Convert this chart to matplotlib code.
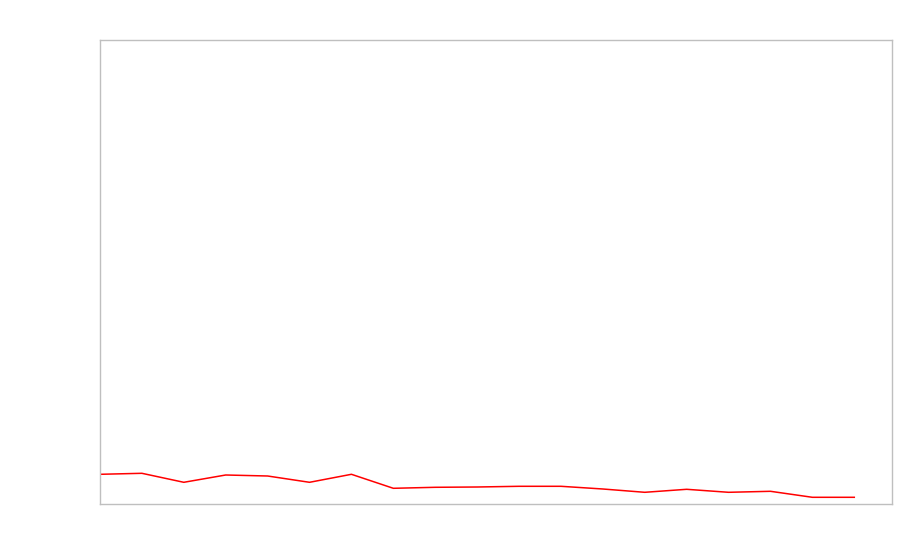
import matplotlib
matplotlib.use("Agg")
import matplotlib.pyplot as plt

x_index = list(range(19))
values = [29.7, 30.7, 21.7, 29.0, 28.0, 21.7, 29.7, 15.7, 16.7, 17.0, 17.7, 17.7, 15.0, 11.7, 14.7, 11.7, 12.7, 6.7, 6.7]

fig = plt.figure(figsize=(9, 5.6), dpi=100)
ax = fig.add_axes([100/900, 56/560, 792/900, 464/560])
ax.plot(x_index, values, color="#ff0000", linewidth=1.1)
ax.set_xlim(0, 18.9)
ax.set_ylim(0, 464)
ax.set_xticks([])
ax.set_yticks([])
for s in ax.spines.values():
    s.set_color("#bfbfbf")
    s.set_linewidth(1.0)
fig.savefig("out.png", dpi=100)
